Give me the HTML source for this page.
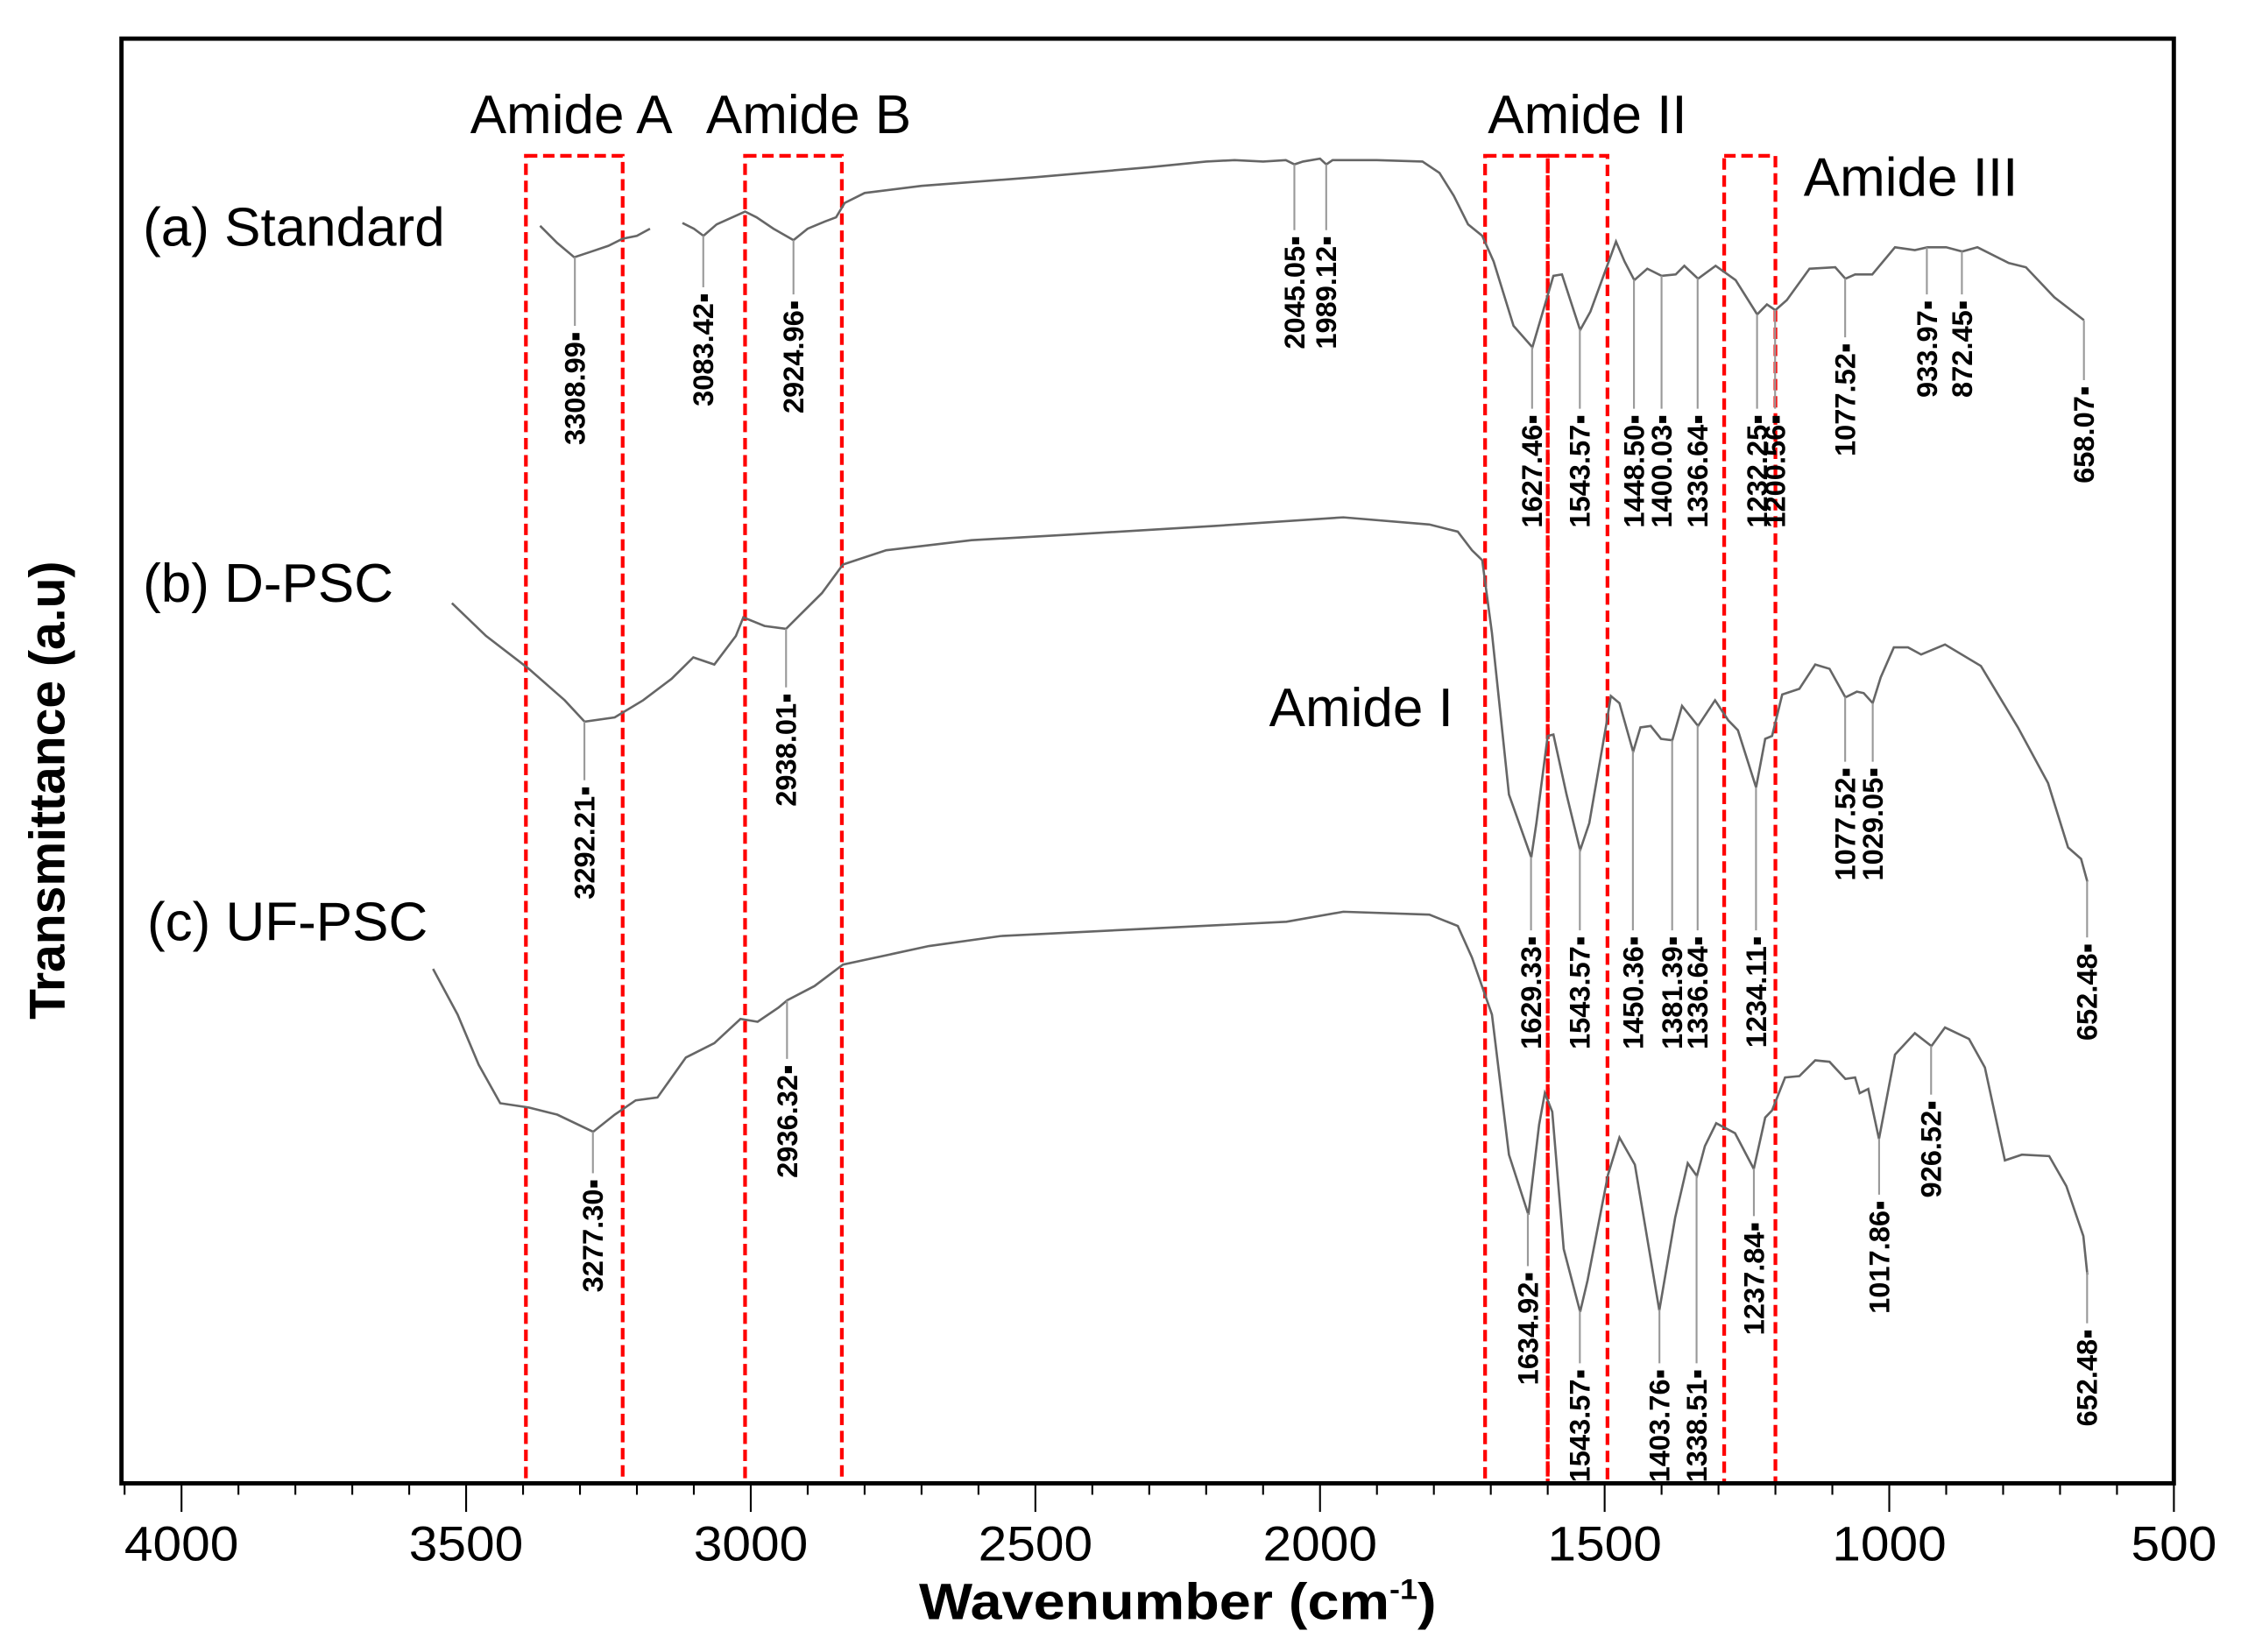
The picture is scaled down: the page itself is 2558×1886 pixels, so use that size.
<!DOCTYPE html>
<html><head><meta charset="utf-8"><title>FTIR spectra</title>
<style>
html,body{margin:0;padding:0;background:#fff;}
svg{display:block;}
text{font-family:"Liberation Sans",Arial,sans-serif;}
</style></head>
<body>
<svg id="chart" width="2558" height="1886" viewBox="0 0 1568 1156" xmlns="http://www.w3.org/2000/svg">
  <rect x="0" y="0" width="1568" height="1156" fill="#fff"/>
  <g id="boxes"></g>
  <g id="series"></g>
  <g id="labels"></g>
  <rect x="85" y="27" width="1436" height="1011" fill="none" stroke="#000" stroke-width="3"/>
  <g id="xaxis"></g>
  <text x="643" y="1133" textLength="362" lengthAdjust="spacingAndGlyphs" font-size="36" font-weight="bold">Wavenumber (cm<tspan font-size="20" dy="-14">-1</tspan><tspan dy="14">)</tspan></text>
  <text transform="translate(45,553) rotate(-90)" text-anchor="middle" font-size="35" font-weight="bold">Transmittance (a.u)</text>
  <text x="100" y="172" font-size="38">(a) Standard</text>
  <text x="100" y="421" font-size="38">(b) D-PSC</text>
  <text x="103" y="658" font-size="38">(c) UF-PSC</text>
  <text x="329" y="93" font-size="38">Amide A</text>
  <text x="494" y="93" font-size="38">Amide B</text>
  <text x="1041" y="93" font-size="38">Amide II</text>
  <text x="1262" y="137" font-size="38">Amide III</text>
  <text x="888" y="508" font-size="38">Amide I</text>
</svg>
<script>
// ---- data ----
const xTicks = [4000,3500,3000,2500,2000,1500,1000,500];
const stdW1 = [3370,3340,3310,3280,3250,3225,3200,3177];
const stdT1 = [880,868,858,862,866,871,873,878];
const stdW2 = [3120,3100,3083,3060,3010,2990,2960,2925,2900,2870,2850,2835,2800,2700,2500,2300,2200,2150,2100,2060,2045,2030,2000,1989,1978,1900,1820,1790,1765,1740,1715,1695,1660,1627,1590,1575,1543,1525,1480,1465,1448,1425,1400,1375,1360,1336,1305,1270,1232,1215,1200,1180,1140,1095,1077,1060,1030,990,955,933,900,872,845,790,760,710,658];
const stdT2 = [882,878,873,881,890,886,878,870,878,883,886,896,903,908,914,921,925,926,925,926,923,925,927,923,926,926,925,917,901,881,873,855,810,795,845,846,807,820,869,855,842,850,845,846,852,843,852,842,818,825,821,828,850,851,843,846,846,865,863,865,865,862,865,854,851,830,814];
const dW = [3525,3465,3390,3327,3292,3239,3189,3139,3101,3064,3026,3013,2976,2938,2913,2875,2838,2762,2612,2436,2185,1959,1808,1758,1733,1715,1698,1668,1629,1620,1600,1590,1567,1543,1527,1497,1489,1474,1450,1437,1419,1401,1381,1364,1336,1306,1283,1266,1234,1218,1206,1188,1158,1130,1105,1077,1057,1045,1029,1015,992,967,944,902,839,774,721,686,663,652];
const dT = [616,593,570,548,533,536,548,563,578,573,593,606,600,598,608,623,643,653,660,664,670,676,671,666,653,646,595,482,438,462,523,524,482,443,462,531,551,546,512,529,530,521,520,544,530,548,534,527,487,521,523,552,556,573,570,550,554,553,546,564,585,585,580,587,572,529,490,445,437,421];
const uW = [3558,3515,3478,3440,3390,3340,3277,3239,3202,3164,3114,3064,3018,2988,2951,2936,2888,2838,2687,2561,2310,2059,1959,1808,1758,1733,1698,1668,1634,1615,1605,1592,1572,1543,1530,1494,1474,1447,1404,1376,1354,1338,1324,1304,1271,1238,1218,1206,1183,1158,1130,1105,1077,1060,1052,1037,1018,990,955,926,902,860,832,797,767,719,689,659,652];
const uT = [360,328,293,266,263,258,246,258,268,270,298,308,325,323,333,338,348,363,376,383,388,393,400,398,390,368,328,230,188,251,273,260,164,120,142,216,242,223,121,186,224,215,236,252,245,220,256,261,284,285,296,295,283,284,273,276,241,300,315,306,319,311,291,226,230,229,208,173,146];
const stdPeaks = [3308.99,3083.42,2924.96,2045.05,1989.12,1627.46,1543.57,1448.50,1400.03,1336.64,1232.25,1200.56,1077.52,933.97,872.45,658.07];
const stdLabelTop = [232,205,210,165,165,290,290,290,290,290,290,290,240,210,210,270];
const dPeaks = [3292.21,2938.01,1629.33,1543.57,1450.36,1381.39,1336.64,1234.11,1077.52,1029.05,652.48];
const dLabelTop = [550,485,655,655,655,655,655,655,537,537,660];
const uPeaks = [3277.30,2936.32,1634.92,1543.57,1403.76,1338.51,1237.84,1017.86,926.52,652.48];
const uLabelTop = [825,745,890,958,958,958,855,840,770,930];
const boxLo = [3225,2840,1600,1495,1200];
const boxHi = [3395,3010,1710,1600,1290];

// ---- scales ----
const X0=127, PX=0.3983, BOTTOM=1038;
function xs(w){return X0+(4000-w)*PX;}
function ys(t){return BOTTOM-t;}
const NS='http://www.w3.org/2000/svg';
function mk(tag,parent){const e=document.createElementNS(NS,tag);parent.appendChild(e);return e;}

// boxes
const gB=document.getElementById('boxes');
boxLo.forEach((lo,i)=>{
  const r=mk('rect',gB);
  
  
  const x1=xs(boxHi[i]), x2=xs(lo);
  r.setAttribute('x',x1);r.setAttribute('y',109);
  r.setAttribute('width',x2-x1);r.setAttribute('height',BOTTOM-109);
  r.setAttribute('fill','none');r.setAttribute('stroke','#ff0000');
  r.setAttribute('stroke-width','2.6');r.setAttribute('stroke-dasharray','8 4');
});

// series
const gS=document.getElementById('series');
function drawLine(W,T,name){
  const p=mk('path',gS);
  
  
  p.setAttribute('d',W.map((w,i)=>(i?'L':'M')+xs(w).toFixed(1)+','+ys(T[i]).toFixed(1)).join(''));
  p.setAttribute('fill','none');p.setAttribute('stroke','#666');p.setAttribute('stroke-width','1.6');
}
drawLine(stdW1,stdT1,'standard-spectrum-part1');
drawLine(stdW2,stdT2,'standard-spectrum-part2');
drawLine(dW,dT,'d-psc-spectrum');
drawLine(uW,uT,'uf-psc-spectrum');

function interp(W,T,w){
  for(let i=0;i<W.length-1;i++){
    if((W[i]>=w&&W[i+1]<=w)){const f=(W[i]-w)/(W[i]-W[i+1]);return T[i]+(T[i+1]-T[i])*f;}
  }
  return T[T.length-1];
}
const gL=document.getElementById('labels');
function drawLabels(peaks,tops,Ws,Ts,prefix){
  peaks.forEach((pk,i)=>{
    let t=null;
    for(let k=0;k<Ws.length;k++){const W=Ws[k];if(pk<=W[0]&&pk>=W[W.length-1]){t=interp(W,Ts[k],pk);}}
    const x=xs(pk);
    const ln=mk('line',gL);
    
    
    ln.setAttribute('x1',x);ln.setAttribute('x2',x);
    ln.setAttribute('y1',ys(t));ln.setAttribute('y2',tops[i]-4);
    ln.setAttribute('stroke','#999');ln.setAttribute('stroke-width','1.3');
    const tx=mk('text',gL);
    
    
    tx.setAttribute('transform','translate('+(x+7)+','+tops[i]+') rotate(-90)');
    tx.setAttribute('text-anchor','end');
    tx.setAttribute('font-size','20');tx.setAttribute('font-weight','bold');
    tx.textContent=pk.toFixed(2)+'\u25AA';
  });
}
drawLabels(stdPeaks,stdLabelTop,[stdW1,stdW2],[stdT1,stdT2],'standard');
drawLabels(dPeaks,dLabelTop,[dW],[dT],'d-psc');
drawLabels(uPeaks,uLabelTop,[uW],[uT],'uf-psc');

// x axis
const gX=document.getElementById('xaxis');
for(let w=4100;w>=500;w-=100){
  const t=mk('line',gX);
  
  
  const x=xs(w);
  t.setAttribute('x1',x);t.setAttribute('x2',x);
  t.setAttribute('y1',BOTTOM);t.setAttribute('y2',BOTTOM+(w%500===0?20:8));
  t.setAttribute('stroke','#000');t.setAttribute('stroke-width','1.3');
}
xTicks.forEach(w=>{
  const t=mk('text',gX);
  
  
  t.setAttribute('x',xs(w));t.setAttribute('y',1092);
  t.setAttribute('text-anchor','middle');t.setAttribute('font-size','34');
  t.setAttribute('textLength', String(w).length*20);
  t.setAttribute('lengthAdjust','spacingAndGlyphs');
  t.textContent=w;
});
</script>
</body></html>
